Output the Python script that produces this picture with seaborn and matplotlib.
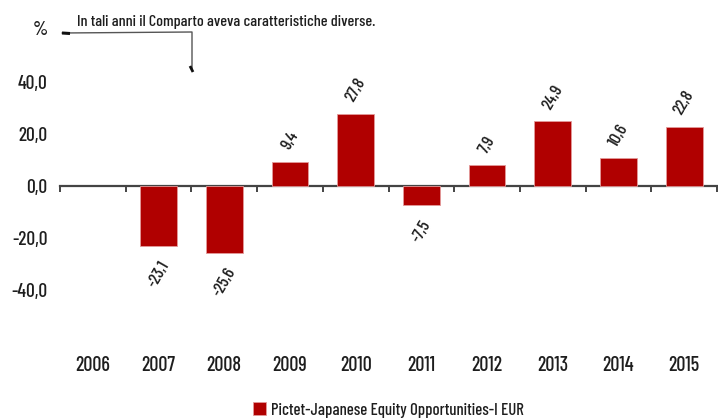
import matplotlib
matplotlib.use("Agg")
import matplotlib.pyplot as plt
import numpy as np
import pandas as pd
import seaborn as sns

# dati
anni = ["2006", "2007", "2008", "2009", "2010", "2011", "2012", "2013", "2014", "2015"]
rendimenti = [np.nan, -23.1, -25.6, 9.4, 27.8, -7.5, 7.9, 24.9, 10.6, 22.8]
serie = "Pictet-Japanese Equity Opportunities-I EUR"
y_ticks = [-40, -20, 0, 20, 40]

rosso = "#b00000"
testo = "#1e1e1e"

sns.set_style("white")
plt.rcParams["font.family"] = ["Barlow Condensed", "DejaVu Sans"]
plt.rcParams["font.weight"] = 500

df = pd.DataFrame({"anno": anni, "valore": rendimenti})

fig = plt.figure(figsize=(7.18, 4.19), dpi=100)
ax = fig.add_axes([60 / 718, 77 / 419, 657 / 718, 312 / 419])

sns.barplot(data=df, x="anno", y="valore", order=anni, color=rosso,
            width=0.56, edgecolor="#e39a9a", linewidth=0.6, saturation=1,
            ax=ax, label=serie)

ax.set_xlim(-0.5, len(anni) - 0.5)
ax.set_ylim(-60, 60)
for s in ax.spines.values():
    s.set_visible(False)

ax.set_yticks(y_ticks)
ax.set_yticklabels([f"{v:.1f}".replace(".", ",") for v in y_ticks])
ax.tick_params(axis="y", length=0, pad=9, labelsize=14, labelcolor=testo)
ax.tick_params(axis="x", length=0, pad=10, labelsize=14.5, labelcolor=testo)
ax.set_xlabel("")
ax.set_ylabel("")

# asse dello zero con tacche tra le categorie
sec = ax.secondary_xaxis(0, transform=ax.transData)
sec.spines["bottom"].set_color("#444444")
sec.spines["bottom"].set_linewidth(1.6)
sec.set_xticks(np.arange(-0.5, len(anni), 1.0))
sec.set_xticklabels([])
sec.tick_params(axis="x", length=4, width=1.4, color="#444444", direction="out")

# etichette dei valori
for i, v in enumerate(rendimenti):
    if np.isnan(v):
        continue
    lab = f"{v:.1f}".replace(".", ",")
    if v >= 0:
        ax.annotate(lab, (i, v), xytext=(0, 7), textcoords="offset points",
                    ha="center", va="bottom", rotation=60, fontsize=12.5, color=testo)
    else:
        ax.annotate(lab, (i, v), xytext=(0, -9), textcoords="offset points",
                    ha="center", va="top", rotation=60, fontsize=12.5, color=testo)

# nota sugli anni iniziali
fig.text(40 / 718, 1 - 30 / 419, "%", ha="center", va="center", fontsize=14, color=testo)
fig.text(77 / 718, 1 - 22 / 419, "In tali anni il Comparto aveva caratteristiche diverse.",
         ha="left", va="center", fontsize=11.6, color=testo)
fx = [62 / 718, 192 / 718, 192 / 718]
fy = [1 - 33 / 419, 1 - 32 / 419, 1 - 70 / 419]
fig.add_artist(plt.Line2D(fx, fy, color="#555555", lw=1.0))
fig.add_artist(plt.Line2D([62 / 718, 70 / 718], [1 - 33 / 419, 1 - 33.5 / 419],
                          color="#111111", lw=2.2, solid_capstyle="butt"))
fig.add_artist(plt.Line2D([190 / 718, 193 / 718], [1 - 66 / 419, 1 - 72 / 419],
                          color="#111111", lw=2.0, solid_capstyle="butt"))

leg = ax.legend(loc="center", bbox_to_anchor=(0.5, -(410 - 342) / 312),
                frameon=False, fontsize=12, handlelength=0.8, handleheight=0.8,
                handletextpad=0.3)
for t in leg.get_texts():
    t.set_color(testo)

fig.savefig("out.png", dpi=100)
